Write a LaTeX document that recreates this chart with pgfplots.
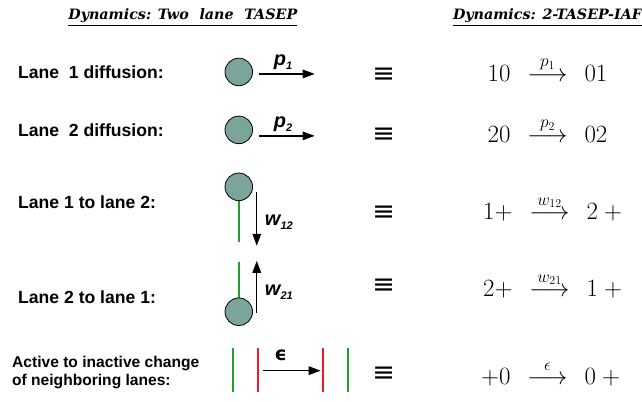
\documentclass[border=0pt]{standalone}
\usepackage{amsmath}
\usepackage{pgfplots}
\pgfplotsset{compat=1.18}
\usepackage{fontspec}
\setmainfont{Liberation Sans}
\newfontfamily\titlefont{DejaVu Serif}
\newfontfamily\dejavu{DejaVu Sans}
\usetikzlibrary{arrows.meta}
\definecolor{ball}{HTML}{7BA59B}
\definecolor{lgreen}{HTML}{22A02C}
\definecolor{lred}{HTML}{E3202A}
\tikzset{
  lab/.style={anchor=base west,font=\bfseries\fontsize{17.6}{20}\selectfont,inner sep=0pt},
  arr/.style={black,line width=1.3pt,-{Triangle[length=12pt,width=8.5pt]}},
  rl/.style={anchor=base west,inner sep=0pt,font=\bfseries\itshape\fontsize{20}{22}\selectfont},
  eqv/.style={anchor=center,inner sep=0pt,font=\dejavu\fontsize{27}{30}\selectfont},
  rq/.style={anchor=base,inner sep=0pt,font=\fontsize{23}{26}\selectfont},
  ttl/.style={anchor=base,inner sep=0pt,font=\titlefont\bfseries\itshape\fontsize{14.3}{16}\selectfont}
}
\newcommand{\mysub}[1]{\raisebox{-4pt}{\fontsize{11}{12}\selectfont #1}}
% reaction: left part, label, right part; arrow centred on the node
\newcommand{\reac}[3]{\llap{$#1$\hspace{17pt}}$\overset{#2}{\longrightarrow}$\rlap{\hspace{17pt}$#3$}}
\begin{document}
\begin{tikzpicture}
\begin{axis}[name=ax,x=1pt,y=1pt,y dir=reverse,xmin=0,xmax=642,ymin=0,ymax=402,
  hide axis,clip=false,scale only axis]
\path (axis cs:0,0) rectangle (axis cs:642,402);
% lanes (green / red bars)
\addplot[lgreen,line width=2pt] coordinates {(239,201) (239,242)};
\addplot[lgreen,line width=2pt] coordinates {(239,262) (239,299)};
\addplot[lgreen,line width=2pt] coordinates {(233,348) (233,392)};
\addplot[lgreen,line width=2pt] coordinates {(348,348) (348,392)};
\addplot[lred,line width=2pt] coordinates {(258,348) (258,392)};
\addplot[lred,line width=2pt] coordinates {(323,348) (323,392)};
% particles
\addplot[only marks,mark=*,mark size=13.8pt,mark options={fill=ball,draw=black,line width=0.8pt}]
  coordinates {(239,72) (239,130) (239,187) (239,312)};
% arrows
\addplot[arr] coordinates {(259,74) (315,74)};
\addplot[arr] coordinates {(259,136) (315,136)};
\addplot[arr] coordinates {(257,192) (257,246)};
\addplot[arr] coordinates {(257,313) (257,261)};
\addplot[arr] coordinates {(263,371) (321,371)};
% titles
\node[ttl] at (axis cs:183,20) {\underline{Dynamics: Two\hspace{0.75em}lane\hspace{0.75em}TASEP}};
\node[ttl] at (axis cs:548,20) {\underline{Dynamics: 2-TASEP-IAF}};
% left labels
\node[lab] at (axis cs:18,79) {Lane\hspace{0.55em}1 diffusion:};
\node[lab] at (axis cs:18,137) {Lane\hspace{0.55em}2 diffusion:};
\node[lab] at (axis cs:18,209) {Lane 1 to lane 2:};
\node[lab] at (axis cs:18,304) {Lane 2 to lane 1:};
\node[lab,font=\bfseries\fontsize{15.6}{18}\selectfont] at (axis cs:12,368) {Active to inactive change};
\node[lab,font=\bfseries\fontsize{15.6}{18}\selectfont] at (axis cs:12,386) {of neighboring lanes:};
% arrow labels
\node[rl] at (axis cs:274,66) {p\mysub{1}};
\node[rl] at (axis cs:274,128) {p\mysub{2}};
\node[rl] at (axis cs:265,226) {w\mysub{12}};
\node[rl] at (axis cs:265,296) {w\mysub{21}};
\node[anchor=base,inner sep=0pt,font=\dejavu\bfseries\fontsize{19}{22}\selectfont] at (axis cs:281,361) {ϵ};
% equivalences
\node[eqv] at (axis cs:384,75.5) {≡};
\node[eqv] at (axis cs:384,135) {≡};
\node[eqv] at (axis cs:384,213) {≡};
\node[eqv] at (axis cs:384,287) {≡};
\node[eqv] at (axis cs:384,375) {≡};
% right equations
\node[rq] at (axis cs:548,82) {\reac{10}{p_1}{01}};
\node[rq] at (axis cs:548,143) {\reac{20}{p_2}{02}};
\node[rq] at (axis cs:550,220) {\reac{1{+}}{w_{12}}{2\mkern4.5mu{+}}};
\node[rq] at (axis cs:550,297) {\reac{2{+}}{w_{21}}{1\mkern4.5mu{+}}};
\node[rq] at (axis cs:548,385) {\reac{{+}0}{\epsilon}{0\mkern4.5mu{+}}};
\end{axis}
\end{tikzpicture}
\end{document}
